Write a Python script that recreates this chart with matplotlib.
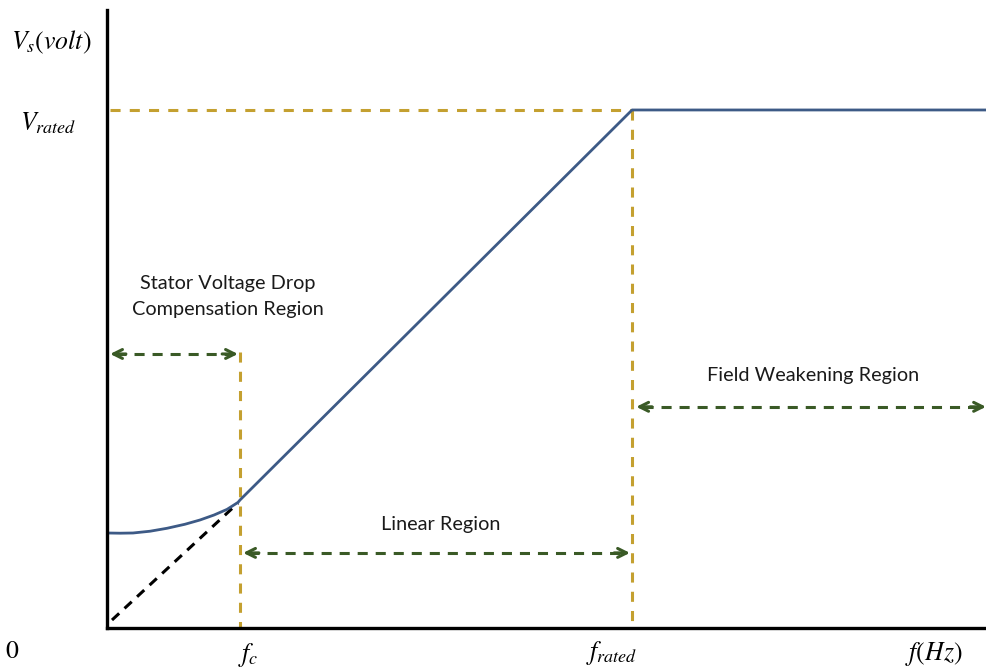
import matplotlib.pyplot as plt

plt.rcParams["mathtext.fontset"] = "stix"

# per-unit frequency / voltage (f_rated = 1, V_rated = 1)
F_C = 0.2533
F_RATED = 1.0
F_MAX = 1.676
V_RATED = 1.0
V_TOP = 1.193

# low-frequency boost curve up to f_c
boost_f = [0.0, 0.0248, 0.0495, 0.0819, 0.1143, 0.1486, 0.1771, 0.2038, 0.2286, 0.2495, F_C]
boost_v = [0.1834, 0.1830, 0.1834, 0.1868, 0.1925, 0.2003, 0.2085, 0.2181, 0.2290, 0.2425, 0.2471]

# V/f curve: boost, linear rise, then constant above f_rated
vf_f = boost_f + [F_RATED, F_MAX]
vf_v = boost_v + [V_RATED, V_RATED]

# ideal V/f line through the origin
ideal_f = [0.0095, 0.2495]
ideal_v = [0.0154, 0.2413]

BLUE = "#3D5A86"
GOLD = "#C4A030"
GREEN = "#3A5A26"

fig = plt.figure(figsize=(9.87, 6.70), dpi=100)
ax = fig.add_axes([107 / 987, 42 / 670, 880 / 987, 618 / 670])
ax.set_xlim(0, F_MAX)
ax.set_ylim(0, V_TOP)
ax.set_xticks([])
ax.set_yticks([])
for side in ("top", "right"):
    ax.spines[side].set_visible(False)
for side in ("left", "bottom"):
    ax.spines[side].set_linewidth(2.4)
    ax.spines[side].set_color("black")

# guide lines at V_rated, f_c and f_rated
ax.plot([0.005, F_RATED], [V_RATED, V_RATED], color=GOLD, lw=2.2, dashes=(3.3, 3))
ax.plot([F_RATED, F_RATED], [V_RATED, 0], color=GOLD, lw=2.2, dashes=(3.3, 3))
ax.plot([F_C, F_C], [0.533, 0], color=GOLD, lw=2.2, dashes=(3.3, 3))

ax.plot(ideal_f, ideal_v, color="black", lw=2.2, dashes=(3.2, 2.4))
ax.plot(vf_f, vf_v, color=BLUE, lw=2.0, solid_capstyle="butt")


def region_arrow(x0, x1, y):
    ax.plot([x0 + 0.012, x1 - 0.012], [y, y], color=GREEN, lw=2.2, dashes=(3.3, 2.6))
    for tip, tail in ((x0, x0 + 0.03), (x1, x1 - 0.03)):
        ax.annotate("", xy=(tip, y), xytext=(tail, y),
                    arrowprops=dict(arrowstyle="->", color=GREEN, lw=2.2,
                                    mutation_scale=16, shrinkA=0, shrinkB=0),
                    annotation_clip=False)


region_arrow(0.006, F_C - 0.004, 0.529)
region_arrow(F_C + 0.006, F_RATED - 0.004, 0.145)
region_arrow(F_RATED + 0.008, F_MAX - 0.002, 0.427)

label_font = dict(family="Lato", fontsize=14.3, color="#1a1a1a")
ax.text(0.23, 0.64, "Stator Voltage Drop\nCompensation Region", ha="center", va="center",
        linespacing=1.6, **label_font)
ax.text(0.636, 0.2, "Linear Region", ha="center", va="center", **label_font)
ax.text(1.345, 0.488, "Field Weakening Region", ha="center", va="center", **label_font)

math_font = dict(fontsize=18.5, color="black", clip_on=False)
ax.text(-0.107, 1.131, r"$V_s(volt)$", ha="center", va="center", **math_font)
ax.text(-0.112, 0.975, r"$V_{rated}$", ha="center", va="center", **math_font)
ax.text(-0.181, -0.045, r"$0$", ha="center", va="center", **math_font)
ax.text(F_C + 0.016, -0.052, r"$f_c$", ha="center", va="center", **math_font)
ax.text(0.962, -0.048, r"$f_{rated}$", ha="center", va="center", **math_font)
ax.text(1.575, -0.05, r"$f(Hz)$", ha="center", va="center", **math_font)

fig.savefig("out.png", dpi=100)
